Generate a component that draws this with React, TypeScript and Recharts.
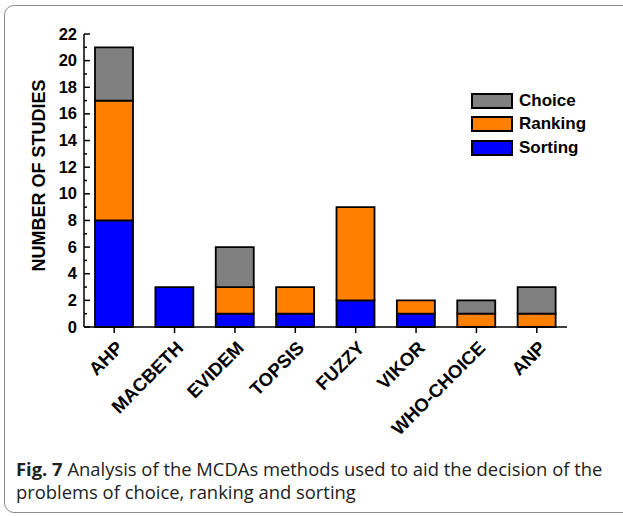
import React from 'react';
import { BarChart, Bar, XAxis, YAxis } from 'recharts';

const methods = ['AHP', 'MACBETH', 'EVIDEM', 'TOPSIS', 'FUZZY', 'VIKOR', 'WHO-CHOICE', 'ANP'];
const sorting = [8, 3, 1, 1, 2, 1, 0, 0];
const ranking = [9, 0, 2, 2, 7, 1, 1, 1];
const choice = [4, 0, 3, 0, 0, 0, 1, 2];
const yTicks = [0, 1, 2, 3, 4, 5, 6, 7, 8, 9, 10, 11, 12, 13, 14, 15, 16, 17, 18, 19, 20, 21, 22];

const data = methods.map((m, i) => ({
  method: m,
  Sorting: sorting[i],
  Ranking: ranking[i],
  Choice: choice[i],
}));

const legendItems = [
  { name: 'Choice', color: '#808080' },
  { name: 'Ranking', color: '#FF8000' },
  { name: 'Sorting', color: '#0000FF' },
];

const chartFont = '"Liberation Sans", Arial, sans-serif';

const YTick = (props: any) => {
  const { x, y, payload } = props;
  const major = payload.value % 2 === 0;
  return (
    <g>
      <line x1={x} x2={x + (major ? 6 : 3)} y1={y} y2={y} stroke="#000" strokeWidth={1.5} />
      {major && (
        <text x={x - 7} y={y} dy={5.5} textAnchor="end" fontFamily={chartFont} fontWeight="bold" fontSize={16.5} fill="#000">
          {payload.value}
        </text>
      )}
    </g>
  );
};

const XTick = (props: any) => {
  const { x, y, payload } = props;
  return (
    <g transform={`translate(${x + 10},${y + 14}) rotate(-45)`}>
      <text x={0} y={0} textAnchor="end" fontFamily={chartFont} fontWeight="bold" fontSize={18.5} fill="#000">
        {payload.value}
      </text>
    </g>
  );
};

const YLabel = (props: any) => {
  const { viewBox } = props;
  const cx = viewBox.x + 21;
  const cy = viewBox.y + viewBox.height / 2 - 5;
  return (
    <text
      x={cx}
      y={cy}
      transform={`rotate(-90, ${cx}, ${cy})`}
      textAnchor="middle"
      fontFamily={chartFont}
      fontWeight="bold"
      fontSize={18}
      fill="#000"
    >
      NUMBER OF STUDIES
    </text>
  );
};

const LegendBox = () => (
  <div style={{ position: 'absolute', left: 471, top: 89, fontFamily: chartFont, fontWeight: 'bold', fontSize: 17 }}>
    {legendItems.map((it) => (
      <div key={it.name} style={{ display: 'flex', alignItems: 'center', height: 23.5 }}>
        <div style={{ width: 38, height: 12, background: it.color, border: '2px solid #000', marginRight: 6 }} />
        <span>{it.name}</span>
      </div>
    ))}
  </div>
);

export default function App() {
  return (
    <div style={{ position: 'absolute', left: 0, top: 0, width: 623, height: 516, background: '#fff', overflow: 'hidden' }}>
      <div
        style={{
          position: 'absolute',
          left: 4,
          top: 5,
          width: 640,
          height: 508,
          border: '1px solid #8a8a8a',
          borderRadius: 10,
          boxSizing: 'border-box',
        }}
      />
      <div style={{ position: 'absolute', left: 0, top: 0 }}>
        <BarChart width={623} height={516} data={data} margin={{ top: 34, right: 56, left: 24, bottom: 0 }}>
          <XAxis
            dataKey="method"
            interval={0}
            height={189}
            tickSize={6}
            tickLine={{ stroke: '#000', strokeWidth: 1.5 }}
            axisLine={{ stroke: '#000', strokeWidth: 1.5 }}
            tick={<XTick />}
          />
          <YAxis
            domain={[0, 22]}
            ticks={yTicks}
            interval={0}
            width={60}
            tickSize={0}
            tickMargin={0}
            tickLine={false}
            axisLine={{ stroke: '#000', strokeWidth: 1.5 }}
            tick={<YTick />}
            label={<YLabel />}
          />
          <Bar dataKey="Sorting" stackId="a" fill="#0000FF" stroke="#000" strokeWidth={1.8} barSize={38} isAnimationActive={false} />
          <Bar dataKey="Ranking" stackId="a" fill="#FF8000" stroke="#000" strokeWidth={1.8} barSize={38} isAnimationActive={false} />
          <Bar dataKey="Choice" stackId="a" fill="#808080" stroke="#000" strokeWidth={1.8} barSize={38} isAnimationActive={false} />
        </BarChart>
      </div>
      <LegendBox />
      <div
        style={{
          position: 'absolute',
          left: 16,
          top: 457,
          width: 605,
          fontFamily: '"Open Sans", sans-serif',
          fontSize: 18.4,
          lineHeight: '23px',
          color: '#222',
        }}
      >
        <span style={{ fontWeight: 'bold' }}>Fig. 7 </span>Analysis of the MCDAs methods used to aid the decision of the problems of choice, ranking and sorting
      </div>
    </div>
  );
}
